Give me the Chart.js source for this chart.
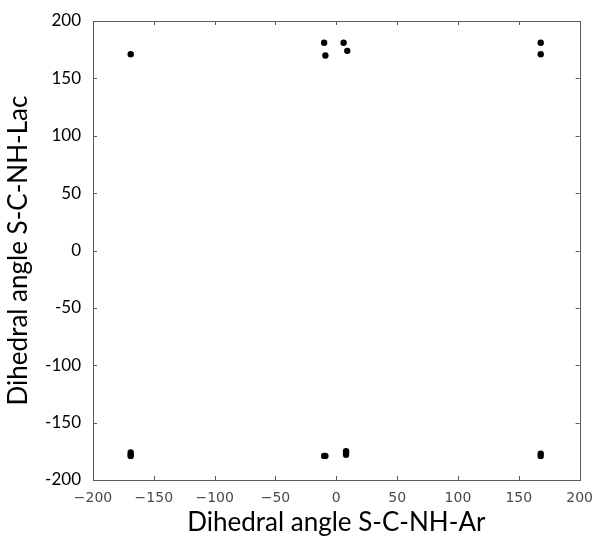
<!DOCTYPE html>
<html>
<head>
<meta charset="utf-8">
<script src="https://cdn.jsdelivr.net/npm/chart.js@4/dist/chart.umd.min.js"></script>
<style>
  html, body { margin: 0; padding: 0; background: #fff; }
  #wrap { width: 595px; height: 539px; }
</style>
</head>
<body>
<div id="wrap"><canvas id="c" width="595" height="539"></canvas></div>
<script>
// Dihedral angle pairs (S-C-NH-Ar, S-C-NH-Lac), degrees
const angleAr  = [-169, -10, -9, 6, 9, 168, 168,
                  -169, -169, -169, -9, -10, 8, 8, 8, 168, 168];
const angleLac = [171, 181, 170, 181, 174, 181, 171,
                  -176, -178, -179, -179, -179, -175, -176, -178, -177, -179];
const xTicks = [-200, -150, -100, -50, 0, 50, 100, 150, 200];
const yTicks = [-200, -150, -100, -50, 0, 50, 100, 150, 200];

const points = angleAr.map((x, i) => ({ x: x, y: angleLac[i] }));

// Frame around the plot area with inward tick marks on all four sides
const framePlugin = {
  id: 'frame',
  afterDatasetsDraw(chart) {
    const { ctx, chartArea: a, scales } = chart;
    ctx.save();
    ctx.strokeStyle = '#5a5a5a';
    ctx.lineWidth = 1;
    ctx.strokeRect(Math.round(a.left) + 0.5, Math.round(a.top) + 0.5,
                   Math.round(a.right - a.left), Math.round(a.bottom - a.top));
    const len = 4;
    ctx.beginPath();
    xTicks.forEach(v => {
      const px = Math.round(scales.x.getPixelForValue(v)) + 0.5;
      ctx.moveTo(px, a.bottom); ctx.lineTo(px, a.bottom - len);
      ctx.moveTo(px, a.top);    ctx.lineTo(px, a.top + len);
    });
    yTicks.forEach(v => {
      const py = Math.round(scales.y.getPixelForValue(v)) + 0.5;
      ctx.moveTo(a.left, py);  ctx.lineTo(a.left + len, py);
      ctx.moveTo(a.right, py); ctx.lineTo(a.right - len, py);
    });
    ctx.stroke();
    ctx.restore();
  }
};

new Chart(document.getElementById('c'), {
  type: 'scatter',
  data: {
    datasets: [{
      data: points,
      backgroundColor: '#000',
      borderColor: '#000',
      pointRadius: 3.2,
      pointBorderWidth: 0,
      pointHoverRadius: 3.2
    }]
  },
  options: {
    responsive: false,
    animation: false,
    events: [],
    layout: { padding: { top: 21, right: 14, left: 0, bottom: 0 } },
    plugins: { legend: { display: false }, tooltip: { enabled: false } },
    scales: {
      x: {
        type: 'linear', min: -200, max: 200,
        afterBuildTicks: s => { s.ticks = xTicks.map(v => ({ value: v })); },
        afterFit: s => { s.height = 59; },
        grid: { display: false },
        border: { display: false },
        ticks: {
          padding: 2,
          color: '#4a4a4a',
          font: { family: 'DejaVu Sans', size: 14 },
          callback: v => (v < 0 ? '\u2212' + Math.abs(v) : String(v))
        },
        title: {
          display: true,
          text: 'Dihedral angle S-C-NH-Ar',
          color: '#000',
          font: { family: 'Lato', size: 26 },
          padding: { top: 0, bottom: 1 }
        }
      },
      y: {
        type: 'linear', min: -200, max: 200,
        afterBuildTicks: s => { s.ticks = yTicks.map(v => ({ value: v })); },
        afterFit: s => { s.width = 93; },
        grid: { display: false },
        border: { display: false },
        ticks: {
          padding: 4,
          color: '#000',
          font: { family: 'Lato', size: 17 },
          callback: v => String(v)
        },
        title: {
          display: true,
          text: 'Dihedral angle S-C-NH-Lac',
          color: '#000',
          font: { family: 'Lato', size: 26 },
          padding: { top: 3, bottom: 0 }
        }
      }
    }
  },
  plugins: [framePlugin]
});
</script>
</body>
</html>
